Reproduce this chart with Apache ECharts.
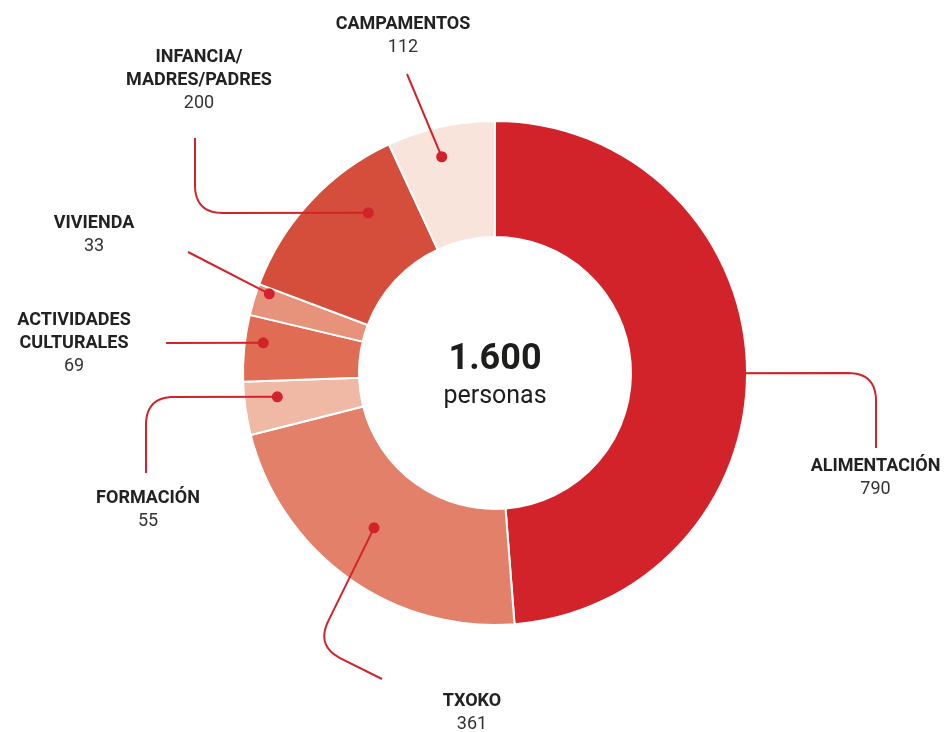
<!DOCTYPE html>
<html><head><meta charset="utf-8">
<script src="https://cdn.jsdelivr.net/npm/echarts@6/dist/echarts.min.js"></script>
<style>html,body{margin:0;padding:0;background:#fff}#c{width:950px;height:732px}</style>
</head><body><div id="c"></div>
<script>
// ---- data ----
const categories = ['ALIMENTACIÓN', 'TXOKO', 'FORMACIÓN', 'ACTIVIDADES\nCULTURALES', 'VIVIENDA', 'INFANCIA/\nMADRES/PADRES', 'CAMPAMENTOS'];
const values = [790, 361, 55, 69, 33, 200, 112];
const totalLabel = '1.600';
const totalCaption = 'personas';

// ---- styles ----
const colors = ['#D2232A', '#E2806A', '#F0B9A5', '#E06D53', '#E7927A', '#D54E3C', '#F9E4DC'];
const accent = '#D2232A';
const textColor = '#222222';

// ---- layout (annotation placement) ----
const CX = 495, CY = 373, R_IN = 136, R_OUT = 252;
const CORNER = 28;
// dot: [radius px, fraction along its slice]
const dotPlace = [[205, 0.513], [196.5, 0.529], [219, 0.653], [233.7, 0.615], [239.2, 0.818], [204.2, 0.697], [222.7, 0.444]];
// label top-centre, optional elbow, line end
const labelPlace = [
  { x: 875.5, y: 455, elbow: [876, 373], end: [876, 448] },
  { x: 472, y: 690, elbow: [316, 646], end: [382, 679] },
  { x: 148, y: 487, elbow: [146, 397], end: [146, 473] },
  { x: 74, y: 309, elbow: null, end: [166, 343] },
  { x: 94, y: 212, elbow: null, end: [188, 252] },
  { x: 199, y: 46, elbow: [195, 213], end: [195, 138] },
  { x: 403, y: 13, elbow: null, end: [407, 74] }
];

const total = values.reduce((a, b) => a + b, 0);
const starts = [];
values.reduce((acc, v, i) => { starts[i] = acc; return acc + v; }, 0);
const dotData = values.map((v, i) => [dotPlace[i][0], starts[i] + dotPlace[i][1] * v]);

function leaderPoints(p0, elbow, end) {
  if (!elbow) return [p0, end];
  const d1 = Math.hypot(p0[0] - elbow[0], p0[1] - elbow[1]);
  const d2 = Math.hypot(end[0] - elbow[0], end[1] - elbow[1]);
  const rr = Math.min(CORNER, d1 * 0.5, d2 * 0.5);
  const a = [elbow[0] + (p0[0] - elbow[0]) * rr / d1, elbow[1] + (p0[1] - elbow[1]) * rr / d1];
  const b = [elbow[0] + (end[0] - elbow[0]) * rr / d2, elbow[1] + (end[1] - elbow[1]) * rr / d2];
  const pts = [p0, a];
  const N = 16;
  for (let k = 1; k < N; k++) {
    const t = k / N, u = 1 - t;
    pts.push([u * u * a[0] + 2 * u * t * elbow[0] + t * t * b[0], u * u * a[1] + 2 * u * t * elbow[1] + t * t * b[1]]);
  }
  pts.push(b, end);
  return pts;
}

const chart = echarts.init(document.getElementById('c'), null, { renderer: 'canvas' });
chart.setOption({
  backgroundColor: '#ffffff',
  animation: false,
  title: [
    { text: totalLabel, left: CX - 5, top: 337, textAlign: 'center',
      textStyle: { fontFamily: 'Roboto', fontWeight: 'bold', fontSize: 36, color: '#1d1d1b' } },
    { text: totalCaption, left: CX - 5, top: 379, textAlign: 'center',
      textStyle: { fontFamily: 'Roboto', fontWeight: 'normal', fontSize: 25, color: '#1d1d1b' } }
  ],
  polar: { center: [CX, CY], radius: R_OUT },
  angleAxis: { type: 'value', min: 0, max: total, startAngle: 90, clockwise: true, show: false },
  radiusAxis: { type: 'value', min: 0, max: R_OUT, show: false },
  series: [
    {
      type: 'pie',
      center: [CX, CY],
      radius: [R_IN, R_OUT],
      startAngle: 90,
      clockwise: true,
      avoidLabelOverlap: false,
      itemStyle: { borderColor: '#ffffff', borderWidth: 2 },
      emphasis: { disabled: true },
      data: values.map((v, i) => ({ name: categories[i], value: v, itemStyle: { color: colors[i] } })),
      label: {
        show: true,
        formatter: function (p) {
          return p.name.split('\n').map(s => '{n|' + s + '}').join('\n') + '\n{v|' + p.value + '}';
        },
        rich: {
          n: { fontFamily: 'Roboto', fontWeight: 'bold', fontSize: 18, color: textColor, lineHeight: 23, align: 'center' },
          v: { fontFamily: 'Roboto', fontWeight: 'normal', fontSize: 18, color: '#333333', lineHeight: 23, align: 'center' }
        }
      },
      labelLine: { show: false },
      labelLayout: function (params) {
        const L = labelPlace[params.dataIndex];
        return { x: L.x, y: L.y, align: 'center', verticalAlign: 'top' };
      }
    },
    {
      type: 'custom',
      coordinateSystem: 'polar',
      silent: true,
      z: 5,
      data: dotData,
      renderItem: function (params, api) {
        const i = params.dataIndex;
        const p0 = api.coord([api.value(0), api.value(1)]);
        const L = labelPlace[i];
        return {
          type: 'group',
          children: [
            { type: 'polyline', shape: { points: leaderPoints(p0, L.elbow, L.end) },
              style: { stroke: accent, lineWidth: 2, fill: 'none' } },
            { type: 'circle', shape: { cx: p0[0], cy: p0[1], r: 5.5 }, style: { fill: accent } }
          ]
        };
      }
    }
  ]
});
</script></body></html>
